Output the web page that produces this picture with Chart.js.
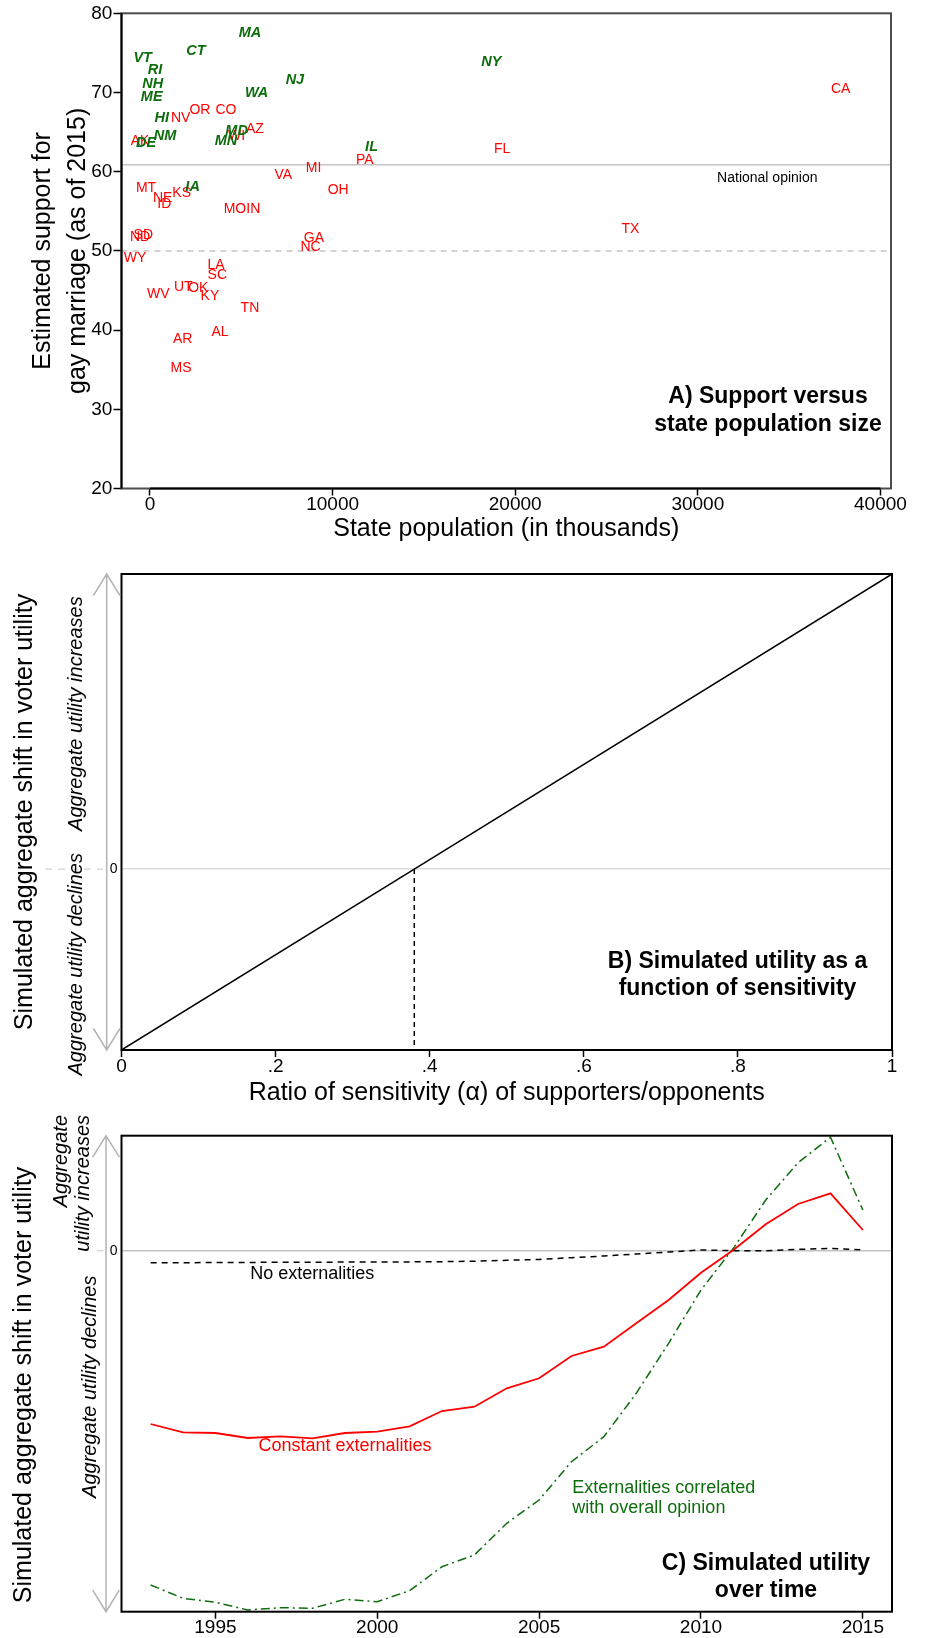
<!DOCTYPE html>
<html>
<head>
<meta charset="utf-8">
<title>Support for same-sex marriage and simulated voter utility</title>
<script src="https://cdn.jsdelivr.net/npm/chart.js@4.4.1/dist/chart.umd.min.js"></script>
<style>
  html, body { margin: 0; padding: 0; background: #ffffff; }
  body { position: relative; width: 926px; height: 1638px; overflow: hidden; }
  canvas { position: absolute; left: 0; }
</style>
</head>
<body>
<canvas id="panelA" width="926" height="556" style="top:0px"></canvas>
<canvas id="panelB" width="926" height="554" style="top:556px"></canvas>
<canvas id="panelC" width="926" height="528" style="top:1110px"></canvas>
<script>
// ================= DATA =================
// Panel A: states where same-sex marriage was legal before 2015 (green) and others (red)
const legalStates = ['MA','CT','VT','RI','NH','ME','NY','NJ','WA','HI','NM','DE','MD','MN','IL','IA'];
const legalPopulation = [5473, 2518, -400, 274, 148, 93, 18690, 7936, 5840, 640, 821, -219, 4745, 4160, 12134, 2335];
const legalSupport = [77.55, 75.24, 74.40, 72.84, 71.07, 69.47, 73.79, 71.58, 69.97, 66.74, 64.5, 63.66, 65.13, 63.87, 63.15, 58.1];

const otherStates = ['AK','NV','OR','CO','AZ','WI','FL','PA','MI','VA','OH','MT','NE','KS','ID','MO','IN','SD','ND','GA','NC','WY','LA','SC','UT','OK','KY','WV','TN','AL','AR','MS','CA','TX'];
const otherPopulation = [-547, 1678, 2737, 4160, 5747, 4745, 19283, 11768, 8959, 7297, 10308, -219, 693, 1733, 785, 4652, 5656, -365, -547, 8976, 8794, -821, 3612, 3686, 1825, 2646, 3284, 456, 5473, 3831, 1788, 1697, 37821, 26311];
const otherSupport = [63.87, 66.81, 67.79, 67.79, 65.35, 64.54, 62.86, 61.47, 60.42, 59.58, 57.68, 57.9, 56.63, 57.34, 55.91, 55.28, 55.28, 52.0, 51.78, 51.66, 50.52, 49.05, 48.21, 46.94, 45.47, 45.26, 44.33, 44.51, 42.74, 39.71, 38.86, 35.24, 70.4, 52.81];

const populationTicks = [0, 10000, 20000, 30000, 40000];
const populationRange = [-1560, 40580];
const supportTicks = [20, 30, 40, 50, 60, 70, 80];
const supportRange = [20, 80];
const nationalOpinion = 60.87;
const majorityThreshold = 50;

// Panel B: simulated utility vs. ratio of sensitivity
const sensitivityRatio = [0, 0.38, 1];
const simulatedUtility = [-0.38, 0, 0.62];
const breakEvenRatio = 0.38;
const ratioTicks = [0, 0.2, 0.4, 0.6, 0.8, 1];
const ratioTickLabels = ['0', '.2', '.4', '.6', '.8', '1'];
const utilityRangeB = [-0.38, 0.62];

// Panel C: simulated utility over time
const years = [1993,1994,1995,1996,1997,1998,1999,2000,2001,2002,2003,2004,2005,2006,2007,2008,2009,2010,2011,2012,2013,2014,2015];
const noExternalities = [-0.12,-0.12,-0.118,-0.117,-0.116,-0.115,-0.114,-0.113,-0.112,-0.11,-0.105,-0.096,-0.087,-0.07,-0.053,-0.033,-0.013,0.007,0,0,0.013,0.023,0.007];
const constantExternalities = [-1.733,-1.816,-1.823,-1.873,-1.856,-1.876,-1.823,-1.81,-1.756,-1.603,-1.56,-1.376,-1.276,-1.053,-0.96,-0.726,-0.493,-0.22,0.007,0.264,0.467,0.574,0.207];
const correlatedExternalities = [-3.343,-3.476,-3.516,-3.593,-3.57,-3.576,-3.486,-3.51,-3.4,-3.16,-3.043,-2.726,-2.493,-2.11,-1.86,-1.426,-0.926,-0.393,0.024,0.507,0.88,1.134,0.407];
const yearTicks = [1995, 2000, 2005, 2010, 2015];
const yearRange = [1992.1, 2015.9];
const utilityRangeC = [-3.61, 1.15];

// ================= STYLE / HELPERS =================
const FONT = '"Liberation Sans", Arial, Helvetica, sans-serif';
Chart.defaults.font.family = FONT;
Chart.defaults.color = '#000';
const RED = '#ff0000';
const GREEN = '#0d6d0d';
const ARROW_GRAY = '#b3b3b3';

function points(xs, ys) { return xs.map((x, i) => ({ x: x, y: ys[i] })); }
function setTicks(values) { return scale => { scale.ticks = values.map(v => ({ value: v })); }; }

function text(ctx, str, x, y, font, color, align) {
  ctx.save();
  ctx.font = font; ctx.fillStyle = color;
  ctx.textAlign = align || 'center'; ctx.textBaseline = 'middle';
  ctx.fillText(str, x, y);
  ctx.restore();
}
function rotatedText(ctx, str, x, y, font, color, align) {
  ctx.save();
  ctx.translate(x, y); ctx.rotate(-Math.PI / 2);
  ctx.font = font; ctx.fillStyle = color;
  ctx.textAlign = align || 'center'; ctx.textBaseline = 'middle';
  ctx.fillText(str, 0, 0);
  ctx.restore();
}
function doubleArrow(ctx, x, top, bottom) {
  ctx.save();
  ctx.strokeStyle = ARROW_GRAY; ctx.lineWidth = 1.5;
  ctx.beginPath();
  ctx.moveTo(x, top); ctx.lineTo(x, bottom);
  ctx.moveTo(x - 13.3, top + 21.5); ctx.lineTo(x, top); ctx.lineTo(x + 13.3, top + 21.5);
  ctx.moveTo(x - 13.3, bottom - 21.5); ctx.lineTo(x, bottom); ctx.lineTo(x + 13.3, bottom - 21.5);
  ctx.stroke();
  ctx.restore();
}
function frame(ctx, area, color, width) {
  ctx.save();
  ctx.strokeStyle = color; ctx.lineWidth = width;
  ctx.strokeRect(area.left, area.top, area.right - area.left, area.bottom - area.top);
  ctx.restore();
}
function dashedStub(ctx, x1, x2, y) {
  ctx.save();
  ctx.strokeStyle = '#d4d4d4'; ctx.lineWidth = 1.2; ctx.setLineDash([7, 6]);
  ctx.beginPath(); ctx.moveTo(x1, y); ctx.lineTo(x2, y); ctx.stroke();
  ctx.restore();
}

const baseOptions = {
  responsive: false,
  animation: false,
  devicePixelRatio: 1,
  plugins: { legend: { display: false }, tooltip: { enabled: false } }
};

// ================= PANEL A =================
const stateLabelPlugin = {
  id: 'stateLabels',
  afterDatasetsDraw(chart) {
    const ctx = chart.ctx;
    chart.data.datasets.forEach((ds, i) => {
      if (!ds.stateLabels) return;
      const meta = chart.getDatasetMeta(i);
      meta.data.forEach((pt, j) => text(ctx, ds.stateLabels[j], pt.x, pt.y, ds.labelFont, ds.labelColor));
    });
  }
};

new Chart(document.getElementById('panelA'), {
  type: 'scatter',
  data: {
    datasets: [
      { label: 'National opinion', data: points(populationRange, [nationalOpinion, nationalOpinion]), showLine: true,
        borderColor: '#c4c4c4', borderWidth: 1.5, pointRadius: 0 },
      { label: 'Majority', data: points(populationRange, [majorityThreshold, majorityThreshold]), showLine: true,
        borderColor: '#c4c4c4', borderWidth: 1.5, borderDash: [6, 5], pointRadius: 0 },
      { label: 'Not legal before 2015', data: points(otherPopulation, otherSupport), pointRadius: 0,
        stateLabels: otherStates, labelFont: '14px ' + FONT, labelColor: RED },
      { label: 'Legal before 2015', data: points(legalPopulation, legalSupport), pointRadius: 0,
        stateLabels: legalStates, labelFont: 'italic bold 14.5px ' + FONT, labelColor: GREEN }
    ]
  },
  options: Object.assign({}, baseOptions, {
    layout: { padding: { left: 0, top: 13.3, right: 926 - 891, bottom: 0 } },
    scales: {
      x: {
        type: 'linear', min: populationRange[0], max: populationRange[1],
        afterBuildTicks: setTicks(populationTicks),
        afterFit: s => { s.height = 556 - 488.5; },
        ticks: { autoSkip: false, maxRotation: 0, color: '#000', font: { size: 19, lineHeight: 1 }, padding: 0, callback: v => String(v) },
        grid: { drawOnChartArea: false, drawTicks: true, tickLength: 7, tickColor: '#000', tickWidth: 1.5 },
        border: { display: false },
        title: { display: true, text: 'State population (in thousands)', color: '#000', font: { size: 25, lineHeight: 1.2 }, padding: { top: 0, bottom: 12 } }
      },
      y: {
        type: 'linear', min: supportRange[0], max: supportRange[1],
        afterBuildTicks: setTicks(supportTicks),
        afterFit: s => { s.width = 121.5; },
        ticks: { color: '#000', font: { size: 19 }, padding: 1.2, callback: v => String(v) },
        grid: { drawOnChartArea: false, drawTicks: true, tickLength: 8, tickColor: '#000', tickWidth: 1.5 },
        border: { display: false },
        title: { display: true, text: ['Estimated support for', 'gay marriage (as of 2015)'], color: '#000', font: { size: 25, lineHeight: 1.4 }, padding: { top: 25.8, bottom: 0 } }
      }
    }
  }),
  plugins: [stateLabelPlugin, {
    id: 'panelAFrame',
    afterDraw(chart) {
      const ctx = chart.ctx, a = chart.chartArea, xs = chart.scales.x;
      frame(ctx, a, '#4d4d4d', 2);
      ctx.save();
      ctx.strokeStyle = '#000'; ctx.lineWidth = 2;
      ctx.beginPath();
      ctx.moveTo(a.left, a.top); ctx.lineTo(a.left, a.bottom);
      ctx.moveTo(xs.getPixelForValue(populationTicks[0]), a.bottom);
      ctx.lineTo(xs.getPixelForValue(populationTicks[populationTicks.length - 1]), a.bottom);
      ctx.stroke();
      ctx.restore();
      text(ctx, 'National opinion', 767.3, 177.9, '14px ' + FONT, '#000');
      text(ctx, 'A) Support versus', 768, 396.8, 'bold 23px ' + FONT, '#000');
      text(ctx, 'state population size', 768, 424.6, 'bold 23px ' + FONT, '#000');
    }
  }]
});

// ================= PANEL B =================
new Chart(document.getElementById('panelB'), {
  type: 'scatter',
  data: {
    datasets: [
      { label: 'Simulated utility', data: points(sensitivityRatio, simulatedUtility), showLine: true,
        borderColor: '#000', borderWidth: 1.5, pointRadius: 0 },
      { label: 'Break-even', data: points([breakEvenRatio, breakEvenRatio], [0, utilityRangeB[0]]), showLine: true,
        borderColor: '#000', borderWidth: 1.5, borderDash: [5, 4], pointRadius: 0 }
    ]
  },
  options: Object.assign({}, baseOptions, {
    layout: { padding: { left: 0, top: 18, right: 926 - 892, bottom: 0 } },
    scales: {
      x: {
        type: 'linear', min: 0, max: 1,
        afterBuildTicks: setTicks(ratioTicks),
        afterFit: s => { s.height = 554 - 494; },
        ticks: { autoSkip: false, maxRotation: 0, color: '#000', font: { size: 19, lineHeight: 1 }, padding: 0.5,
                 callback: (v) => ratioTickLabels[ratioTicks.indexOf(v)] },
        grid: { drawOnChartArea: false, drawTicks: true, tickLength: 7, tickColor: '#000', tickWidth: 1.5 },
        border: { display: false },
        title: { display: true, text: 'Ratio of sensitivity (\u03B1) of supporters/opponents', color: '#000', font: { size: 25, lineHeight: 1.2 }, padding: { top: 0, bottom: 2 } }
      },
      y: {
        type: 'linear', min: utilityRangeB[0], max: utilityRangeB[1],
        afterBuildTicks: setTicks([0]),
        afterFit: s => { s.width = 121.5; },
        ticks: { color: '#000', font: { size: 14 }, padding: 4, callback: v => String(v) },
        grid: { drawOnChartArea: true, drawTicks: false, color: '#dcdcdc', lineWidth: 1.5 },
        border: { display: false },
        title: { display: true, text: 'Simulated aggregate shift in voter utility', color: '#000', font: { size: 25, lineHeight: 1.2 }, padding: { top: 10, bottom: 0 } }
      }
    }
  }),
  plugins: [{
    id: 'panelBExtras',
    afterDraw(chart) {
      const ctx = chart.ctx, a = chart.chartArea;
      const y0 = chart.scales.y.getPixelForValue(0);
      frame(ctx, a, '#000', 2);
      doubleArrow(ctx, 106.7, a.top, a.bottom);
      dashedStub(ctx, 45, 103, y0);
      rotatedText(ctx, 'Aggregate utility increases', 76.7, 157.6, 'italic 20px ' + FONT, '#000');
      rotatedText(ctx, 'Aggregate utility declines', 76.7, 408.3, 'italic 20px ' + FONT, '#000');
      text(ctx, 'B) Simulated utility as a', 737.5, 405.7, 'bold 23px ' + FONT, '#000');
      text(ctx, 'function of sensitivity', 737.5, 432.6, 'bold 23px ' + FONT, '#000');
    }
  }]
});

// ================= PANEL C =================
new Chart(document.getElementById('panelC'), {
  type: 'scatter',
  data: {
    datasets: [
      { label: 'No externalities', data: points(years, noExternalities), showLine: true,
        borderColor: '#000', borderWidth: 1.5, borderDash: [6, 5], pointRadius: 0 },
      { label: 'Constant externalities', data: points(years, constantExternalities), showLine: true,
        borderColor: RED, borderWidth: 1.8, pointRadius: 0 },
      { label: 'Externalities correlated with overall opinion', data: points(years, correlatedExternalities), showLine: true,
        borderColor: GREEN, borderWidth: 1.5, borderDash: [9, 4, 2, 4], pointRadius: 0 }
    ]
  },
  options: Object.assign({}, baseOptions, {
    layout: { padding: { left: 0, top: 25.7, right: 926 - 892, bottom: 0 } },
    scales: {
      x: {
        type: 'linear', min: yearRange[0], max: yearRange[1],
        afterBuildTicks: setTicks(yearTicks),
        afterFit: s => { s.height = 528 - 501.7; },
        ticks: { autoSkip: false, maxRotation: 0, color: '#000', font: { size: 19, lineHeight: 1 }, padding: 0, callback: v => String(v) },
        grid: { drawOnChartArea: false, drawTicks: true, tickLength: 7, tickColor: '#000', tickWidth: 1.5 },
        border: { display: false }
      },
      y: {
        type: 'linear', min: utilityRangeC[0], max: utilityRangeC[1],
        afterBuildTicks: setTicks([0]),
        afterFit: s => { s.width = 121.5; },
        ticks: { color: '#000', font: { size: 14 }, padding: 4, callback: v => String(v) },
        grid: { drawOnChartArea: true, drawTicks: false, color: '#c2c2c2', lineWidth: 1.5 },
        border: { display: false }
      }
    }
  }),
  plugins: [{
    id: 'panelCExtras',
    afterDraw(chart) {
      const ctx = chart.ctx, a = chart.chartArea;
      const y0 = chart.scales.y.getPixelForValue(0);
      frame(ctx, a, '#000', 2);
      doubleArrow(ctx, 106, a.top, a.bottom);
      dashedStub(ctx, 96.7, 108, y0);
      rotatedText(ctx, 'Simulated aggregate shift in voter utility', 24, 275, '25px ' + FONT, '#000');
      rotatedText(ctx, 'Aggregate', 61.7, 5, 'italic 20px ' + FONT, '#000', 'right');
      rotatedText(ctx, 'utility increases', 83.3, 5, 'italic 20px ' + FONT, '#000', 'right');
      rotatedText(ctx, 'Aggregate utility declines', 90, 276.7, 'italic 20px ' + FONT, '#000');
      text(ctx, 'No externalities', 312.3, 164, '18px ' + FONT, '#000');
      text(ctx, 'Constant externalities', 345, 335.7, '18px ' + FONT, RED);
      text(ctx, 'Externalities correlated', 572.3, 378.3, '18px ' + FONT, GREEN, 'left');
      text(ctx, 'with overall opinion', 572.3, 398.3, '18px ' + FONT, GREEN, 'left');
      text(ctx, 'C) Simulated utility', 766, 453.3, 'bold 23px ' + FONT, '#000');
      text(ctx, 'over time', 766, 481, 'bold 23px ' + FONT, '#000');
    }
  }]
});
</script>
</body>
</html>
